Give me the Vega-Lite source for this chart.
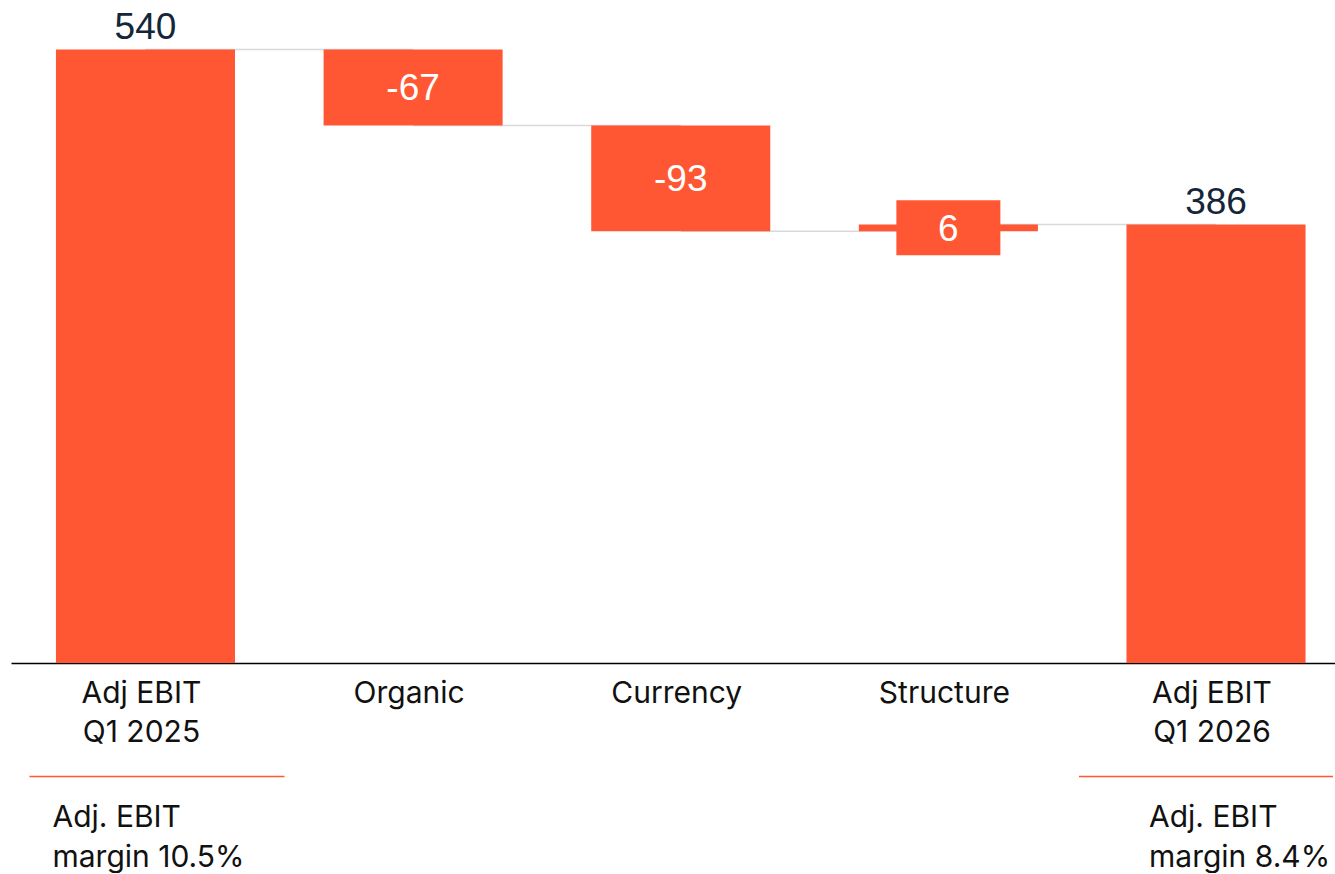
{
  "$schema": "https://vega.github.io/schema/vega-lite/v6.json",
  "padding": {"left": 11, "right": 0, "top": 0, "bottom": 0},
  "background": "white",
  "bounds": "flush",
  "spacing": 60,
  "config": {"view": {"stroke": null}, "font": "Inter"},
  "datasets": {
    "steps": [
      {"cat": "Adj EBIT|Q1 2025", "kind": "total", "value": 540, "start": 0, "end": 540, "next": "Organic"},
      {"cat": "Organic", "kind": "delta", "value": -67, "start": 540, "end": 473, "next": "Currency"},
      {"cat": "Currency", "kind": "delta", "value": -93, "start": 473, "end": 380, "next": "Structure"},
      {"cat": "Structure", "kind": "delta", "value": 6, "start": 380, "end": 386, "next": "Adj EBIT|Q1 2026"},
      {"cat": "Adj EBIT|Q1 2026", "kind": "total", "value": 386, "start": 0, "end": 386, "next": null}
    ],
    "notes": [
      {"cat": "Adj EBIT|Q1 2025", "note": "Adj. EBIT\nmargin 10.5%"},
      {"cat": "Adj EBIT|Q1 2026", "note": "Adj. EBIT\nmargin 8.4%"}
    ]
  },
  "resolve": {"scale": {"x": "shared"}},
  "vconcat": [
    {
      "width": 1324,
      "height": 663,
      "data": {"name": "steps"},
      "encoding": {
        "x": {
          "field": "cat",
          "type": "nominal",
          "scale": {
            "type": "band",
            "domain": ["Adj EBIT|Q1 2025", "Organic", "Currency", "Structure", "Adj EBIT|Q1 2026"],
            "paddingInner": 0.331,
            "paddingOuter": 0.139,
            "align": 0.604
          },
          "axis": {
            "title": null,
            "labelExpr": "split(datum.label, '|')",
            "labelAngle": 0,
            "labelFont": "Inter",
            "labelFontSize": 30,
            "labelColor": "#111111",
            "labelPadding": 15,
            "labelLineHeight": 39,
            "labelBaseline": "top",
            "labelOffset": -4,
            "labelLimit": 0,
            "ticks": false,
            "tickSize": 0,
            "grid": false,
            "domainColor": "#000000",
            "domainWidth": 1.5
          }
        }
      },
      "layer": [
        {
          "transform": [{"filter": "isValid(datum.next)"}],
          "mark": {"type": "rule", "color": "#D9D9D9", "strokeWidth": 1.5},
          "encoding": {
            "x2": {"field": "next"},
            "y": {"field": "end", "type": "quantitative", "scale": {"domain": [0, 583.5], "nice": false, "zero": true}, "axis": null}
          }
        },
        {
          "mark": {"type": "bar", "color": "#FF5733"},
          "encoding": {
            "y": {"field": "start", "type": "quantitative"},
            "y2": {"field": "end"}
          }
        },
        {
          "transform": [
            {"filter": "datum.cat == 'Structure'"},
            {"fold": ["start", "end"], "as": ["edge", "v"]}
          ],
          "mark": {"type": "point", "shape": "M-1,-0.529L1,-0.529L1,0.529L-1,0.529Z", "size": 10816, "filled": true, "opacity": 1, "color": "#FF5733", "strokeWidth": 0},
          "encoding": {
            "y": {"aggregate": "mean", "field": "v", "type": "quantitative"}
          }
        },
        {
          "transform": [
            {"filter": "datum.kind == 'delta'"},
            {"fold": ["start", "end"], "as": ["edge", "v"]}
          ],
          "mark": {"type": "text", "color": "#FFFFFF", "font": "Liberation Sans", "fontSize": 37, "baseline": "middle", "align": "center", "dy": 2},
          "encoding": {
            "y": {"aggregate": "mean", "field": "v", "type": "quantitative"},
            "text": {"field": "value", "type": "nominal"}
          }
        },
        {
          "transform": [{"filter": "datum.kind == 'total'"}],
          "mark": {"type": "text", "color": "#14263A", "font": "Liberation Sans", "fontSize": 37, "baseline": "alphabetic", "align": "center", "dy": -10},
          "encoding": {
            "y": {"field": "end", "type": "quantitative"},
            "text": {"field": "value", "type": "nominal"}
          }
        }
      ]
    },
    {
      "width": 1324,
      "height": 107,
      "data": {"name": "notes"},
      "encoding": {
        "x": {
          "field": "cat",
          "type": "nominal",
          "scale": {
            "type": "band",
            "domain": ["Adj EBIT|Q1 2025", "Organic", "Currency", "Structure", "Adj EBIT|Q1 2026"],
            "paddingInner": 0.331,
            "paddingOuter": 0.139,
            "align": 0.604
          },
          "axis": null
        }
      },
      "layer": [
        {
          "mark": {
            "type": "rule",
            "color": "#FF5733",
            "strokeWidth": 1.3,
            "xOffset": {"expr": "datum.cat == 'Adj EBIT|Q1 2025' ? -116 : -137"},
            "x2Offset": {"expr": "datum.cat == 'Adj EBIT|Q1 2025' ? 139 : 117"}
          },
          "encoding": {
            "x2": {"field": "cat"}
          }
        },
        {
          "mark": {
            "type": "text",
            "align": "left",
            "baseline": "alphabetic",
            "dx": {"expr": "datum.cat == 'Adj EBIT|Q1 2025' ? -93 : -67"},
            "dy": 50,
            "font": "Inter",
            "fontSize": 30,
            "lineHeight": 40,
            "lineBreak": "\n",
            "color": "#111111"
          },
          "encoding": {
            "text": {"field": "note"}
          }
        }
      ]
    }
  ]
}
